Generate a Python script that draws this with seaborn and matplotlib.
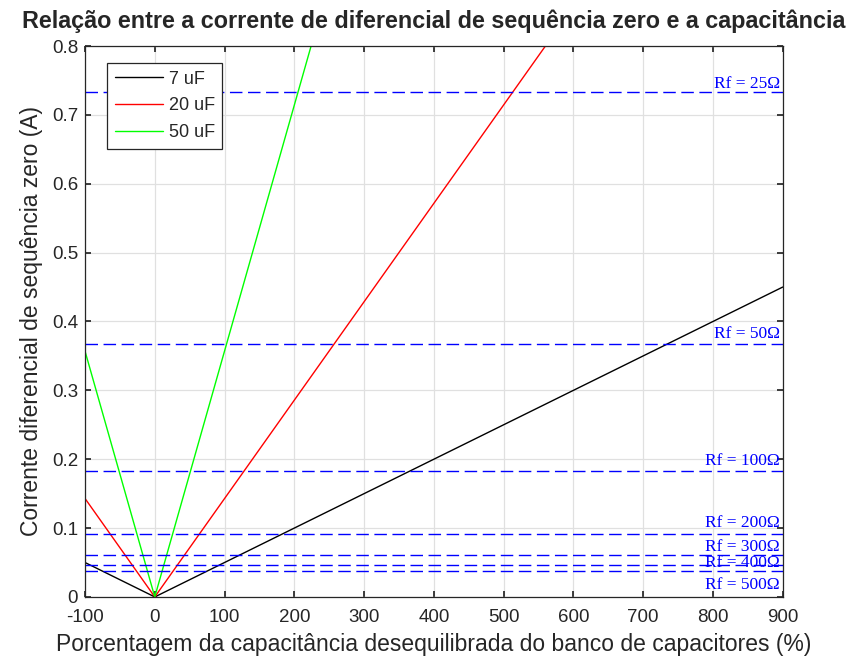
import matplotlib
matplotlib.use("Agg")
import matplotlib.pyplot as plt
import numpy as np
import pandas as pd
import seaborn as sns

# curve data: differential zero-sequence current vs. unbalance (%)
x_pct = [-100, 0, 900]
i_7uF = [0.05, 0.0, 0.45]
i_20uF = [0.143, 0.0, 1.286]
i_50uF = [0.357, 0.0, 3.214]
series_names = ["7 uF", "20 uF", "50 uF"]

# fault resistance thresholds
rf_labels = ["Rf = 25Ω", "Rf = 50Ω", "Rf = 100Ω", "Rf = 200Ω", "Rf = 300Ω", "Rf = 400Ω", "Rf = 500Ω"]
rf_current = [0.733, 0.367, 0.183, 0.092, 0.061, 0.046, 0.037]

df = pd.DataFrame({
    "x": x_pct * 3,
    "y": i_7uF + i_20uF + i_50uF,
    "serie": sum([[n] * len(x_pct) for n in series_names], []),
})

sns.set_theme(style="whitegrid")
plt.rcParams["font.family"] = ["Liberation Sans", "DejaVu Sans"]
plt.rcParams["axes.unicode_minus"] = False

fig = plt.figure(figsize=(8.63, 6.64), dpi=100)
ax = fig.add_axes([0.0985, 0.101, 0.8085, 0.8297])

sns.lineplot(data=df, x="x", y="y", hue="serie",
             palette=["#000000", "#ff0000", "#00ff00"],
             linewidth=1.0, ax=ax)

# text offsets (in A) for the threshold labels, as MATLAB placed them
label_dy = [0.012, 0.015, 0.015, 0.016, 0.011, 0.003, -0.019]
for lab, val, dy in zip(rf_labels, rf_current, label_dy):
    ax.axhline(val, color="#0000ff", linestyle=(0, (9, 4)), linewidth=1.0)
    ax.text(896, val + dy, lab, color="#0000ff", ha="right", va="center",
            fontsize=12.5, family=["Liberation Serif", "DejaVu Serif"])

ax.set_xlim(-100, 900)
ax.set_ylim(0, 0.8)
ax.set_xticks(np.arange(-100, 901, 100))
ax.set_yticks(np.arange(0, 0.81, 0.1))
ax.set_yticklabels(["0", "0.1", "0.2", "0.3", "0.4", "0.5", "0.6", "0.7", "0.8"])
ax.grid(True, color="#e0e0e0", linewidth=0.9)
ax.tick_params(axis="both", direction="in", length=4, labelsize=13.5,
               colors="#262626", left=True, bottom=True, top=True, right=True)
ax.tick_params(axis="x", pad=9)
ax.tick_params(axis="y", pad=5)
for s in ax.spines.values():
    s.set_color("#262626")
    s.set_linewidth(0.9)
ax.set_facecolor("white")

ax.set_xlabel("Porcentagem da capacitância desequilibrada do banco de capacitores (%)",
              fontsize=16.5, color="#262626", labelpad=5)
ax.set_ylabel("Corrente diferencial de sequência zero (A)", fontsize=16.5,
              color="#262626", labelpad=6)
ax.set_title("Relação entre a corrente de diferencial de sequência zero e a capacitância",
             fontsize=16.8, fontweight="bold", pad=13)

leg = ax.legend(loc="upper left", fontsize=13, frameon=True, fancybox=False,
                edgecolor="#262626", framealpha=1, borderpad=0.4,
                handlelength=2.7, handletextpad=0.3, labelspacing=0.55,
                bbox_to_anchor=(0.019, 0.985))
leg.get_frame().set_linewidth(0.9)
for t in leg.get_texts():
    t.set_color("#262626")

fig.savefig("out.png", dpi=100)
